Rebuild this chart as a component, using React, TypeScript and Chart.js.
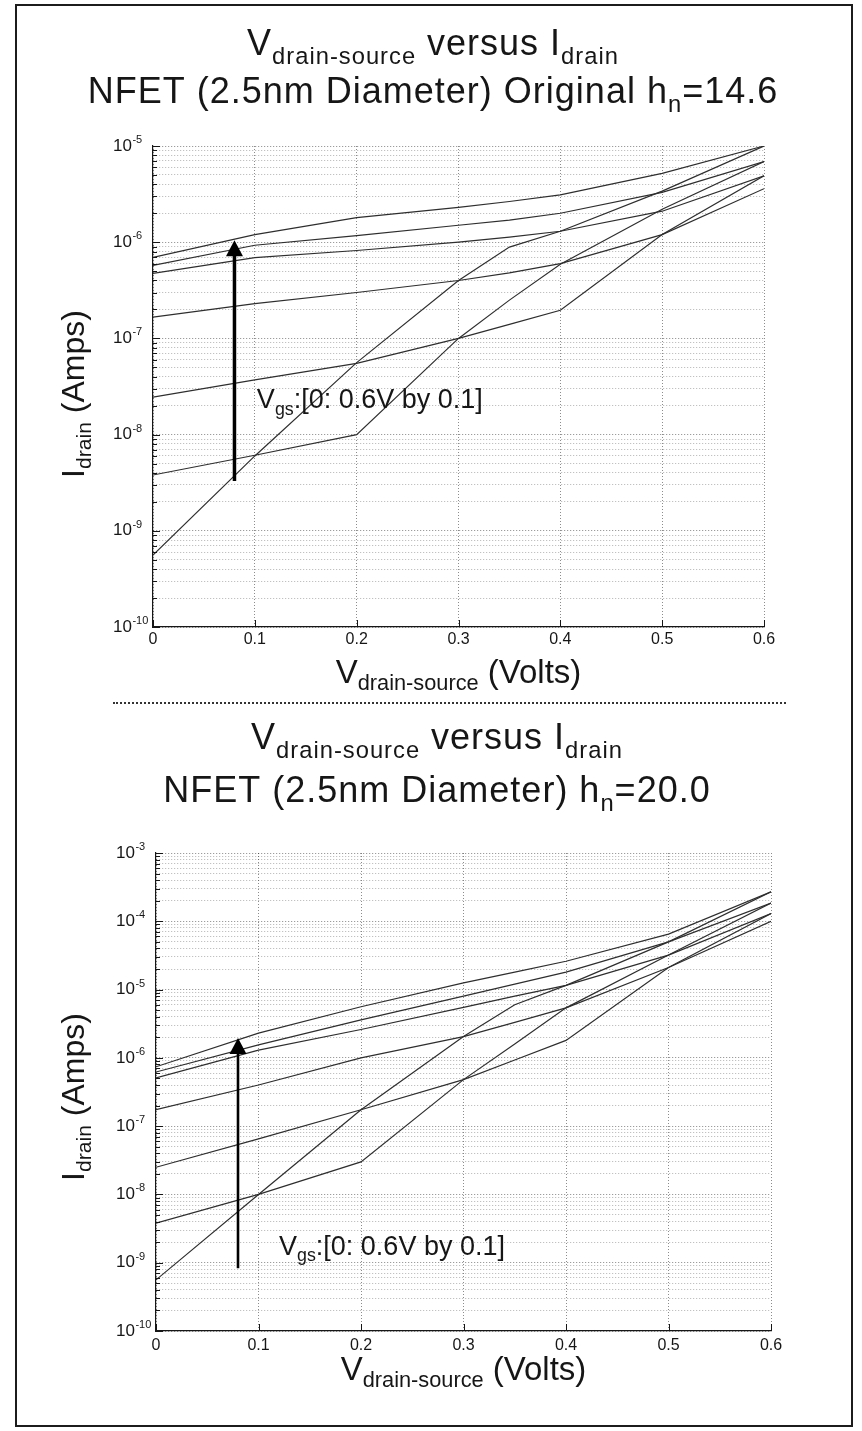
import React, { useEffect, useRef } from "react";
import { Chart, registerables } from "chart.js";

Chart.register(...registerables);

const FONT = '"Liberation Sans", Arial, Helvetica, sans-serif';
const INK = "#161616";
const CURVE = "#2e2e2e";

// ---------------- data ----------------
const VGS_STEPS = [0, 0.1, 0.2, 0.3, 0.4, 0.5, 0.6];
const VDS_POINTS = [0, 0.1, 0.2, 0.3, 0.35, 0.4, 0.5, 0.6];

// Top panel: original h_n = 14.6
const TOP_ID_VGS0 = [5.6e-10, 6.0e-9, 5.6e-8, 4.0e-7, 8.9e-7, 1.3e-6, 3.4e-6, 1.0e-5];
const TOP_ID_VGS1 = [3.8e-9, 6.1e-9, 1.0e-8, 1.0e-7, 2.5e-7, 5.9e-7, 2.2e-6, 6.9e-6];
const TOP_ID_VGS2 = [2.45e-8, 3.7e-8, 5.5e-8, 1.0e-7, 1.4e-7, 1.96e-7, 1.2e-6, 4.9e-6];
const TOP_ID_VGS3 = [1.66e-7, 2.3e-7, 3.0e-7, 4.0e-7, 4.8e-7, 6.0e-7, 1.2e-6, 3.6e-6];
const TOP_ID_VGS4 = [4.75e-7, 6.9e-7, 8.2e-7, 1.0e-6, 1.13e-6, 1.3e-6, 2.1e-6, 4.9e-6];
const TOP_ID_VGS5 = [5.75e-7, 9.3e-7, 1.17e-6, 1.5e-6, 1.7e-6, 2.0e-6, 3.3e-6, 6.9e-6];
const TOP_ID_VGS6 = [6.95e-7, 1.2e-6, 1.8e-6, 2.3e-6, 2.65e-6, 3.1e-6, 5.2e-6, 1.0e-5];

// Bottom panel: h_n = 20.0
const BOT_ID_VGS0 = [5.6e-10, 1.0e-8, 1.74e-7, 2.05e-6, 6.0e-6, 1.15e-5, 5.0e-5, 2.7e-4];
const BOT_ID_VGS1 = [3.8e-9, 1.0e-8, 3.0e-8, 4.8e-7, 1.6e-6, 5.4e-6, 3.2e-5, 1.85e-4];
const BOT_ID_VGS2 = [2.5e-8, 6.5e-8, 1.74e-7, 4.8e-7, 9.3e-7, 1.8e-6, 2.1e-5, 1.3e-4];
const BOT_ID_VGS3 = [1.74e-7, 4.0e-7, 1.0e-6, 2.05e-6, 3.3e-6, 5.4e-6, 2.1e-5, 1.0e-4];
const BOT_ID_VGS4 = [5.1e-7, 1.3e-6, 2.6e-6, 5.5e-6, 8.0e-6, 1.15e-5, 3.2e-5, 1.3e-4];
const BOT_ID_VGS5 = [6.2e-7, 1.55e-6, 3.6e-6, 8.0e-6, 1.2e-5, 1.8e-5, 5.0e-5, 1.85e-4];
const BOT_ID_VGS6 = [7.4e-7, 2.3e-6, 5.6e-6, 1.25e-5, 1.8e-5, 2.6e-5, 6.5e-5, 2.7e-4];

const X_TICKS = [0, 0.1, 0.2, 0.3, 0.4, 0.5, 0.6];
const X_TICK_LABELS = ["0", "0.1", "0.2", "0.3", "0.4", "0.5", "0.6"];
const TOP_Y_EXPONENTS = [-10, -9, -8, -7, -6, -5];
const BOT_Y_EXPONENTS = [-10, -9, -8, -7, -6, -5, -4, -3];

// arrows and notes (data coordinates)
const TOP_ARROW = { vds: 0.08, from: 3.3e-9, to: 1.05e-6 };
const BOT_ARROW = { vds: 0.08, from: 8.3e-10, to: 1.95e-6 };
const TOP_NOTE_AT = { vds: 0.102, id: 1.87e-8 };
const BOT_NOTE_AT = { vds: 0.12, id: 1.3e-9 };

// texts
type Seg = { t: string; k?: "sub" | "sup" };
const TITLE_1: Seg[] = [{ t: "V" }, { t: "drain-source", k: "sub" }, { t: " versus I" }, { t: "drain", k: "sub" }];
const TOP_TITLE_2: Seg[] = [{ t: "NFET (2.5nm Diameter) Original h" }, { t: "n", k: "sub" }, { t: "=14.6" }];
const BOT_TITLE_2: Seg[] = [{ t: "NFET (2.5nm Diameter) h" }, { t: "n", k: "sub" }, { t: "=20.0" }];
const X_TITLE: Seg[] = [{ t: "V" }, { t: "drain-source", k: "sub" }, { t: " (Volts)" }];
const Y_TITLE: Seg[] = [{ t: "I" }, { t: "drain", k: "sub" }, { t: " (Amps)" }];
const VGS_NOTE: Seg[] = [{ t: "V" }, { t: "gs", k: "sub" }, { t: ":[0: 0.6V by 0.1]" }];

// ---------------- helpers ----------------
function logTicks(minExp: number, maxExp: number) {
  const out: any[] = [];
  for (let e = minExp; e < maxExp; e++) {
    for (let k = 1; k <= 9; k++) out.push({ value: k * Math.pow(10, e), major: k === 1 });
  }
  out.push({ value: Math.pow(10, maxExp), major: true });
  return out;
}

function drawRich(ctx: CanvasRenderingContext2D, segs: Seg[], x: number, y: number, size: number, align: "left" | "center", ls = 0, subRatio = 0.66, dyRatio = 0.25) {
  const sub = size * subRatio;
  const dy = size * dyRatio;
  ctx.textBaseline = "alphabetic";
  ctx.textAlign = "left";
  (ctx as any).letterSpacing = ls + "px";
  const widths = segs.map((s) => {
    ctx.font = `${s.k ? sub : size}px ${FONT}`;
    return ctx.measureText(s.t).width;
  });
  const total = widths.reduce((a, b) => a + b, 0);
  let cx = align === "center" ? x - total / 2 : x;
  segs.forEach((s, i) => {
    ctx.font = `${s.k ? sub : size}px ${FONT}`;
    const off = s.k === "sub" ? dy : s.k === "sup" ? -dy : 0;
    ctx.fillText(s.t, cx, y + off);
    cx += widths[i];
  });
  (ctx as any).letterSpacing = "0px";
}

type PanelSpec = {
  top: number;
  height: number;
  padding: { left: number; right: number; top: number; bottom: number };
  minExp: number;
  maxExp: number;
  exponents: number[];
  series: number[][];
  title2: Seg[];
  titleX: number;
  title1Y: number;
  title2Y: number;
  xTitleY: number;
  yTitleX: number;
  yTitleCY: number;
  xTickDy: number;
  arrow: { vds: number; from: number; to: number };
  arrowWidth: number;
  note: { vds: number; id: number };
};

const TOP_SPEC: PanelSpec = {
  top: 0,
  height: 700,
  padding: { left: 153, right: 98, top: 146, bottom: 73 },
  minExp: -10,
  maxExp: -5,
  exponents: TOP_Y_EXPONENTS,
  series: [TOP_ID_VGS0, TOP_ID_VGS1, TOP_ID_VGS2, TOP_ID_VGS3, TOP_ID_VGS4, TOP_ID_VGS5, TOP_ID_VGS6],
  title2: TOP_TITLE_2,
  titleX: 433,
  title1Y: 55,
  title2Y: 103,
  xTitleY: 683,
  yTitleX: 84,
  yTitleCY: 394,
  xTickDy: 13,
  arrow: TOP_ARROW,
  arrowWidth: 3.5,
  note: TOP_NOTE_AT,
};

const BOT_SPEC: PanelSpec = {
  top: 700,
  height: 731,
  padding: { left: 156, right: 91, top: 153, bottom: 100 },
  minExp: -10,
  maxExp: -3,
  exponents: BOT_Y_EXPONENTS,
  series: [BOT_ID_VGS0, BOT_ID_VGS1, BOT_ID_VGS2, BOT_ID_VGS3, BOT_ID_VGS4, BOT_ID_VGS5, BOT_ID_VGS6],
  title2: BOT_TITLE_2,
  titleX: 437,
  title1Y: 49,
  title2Y: 102,
  xTitleY: 680,
  yTitleX: 84,
  yTitleCY: 397,
  xTickDy: 15,
  arrow: BOT_ARROW,
  arrowWidth: 2.6,
  note: BOT_NOTE_AT,
};

function overlayPlugin(spec: PanelSpec) {
  return {
    id: "overlay",
    afterDraw(chart: any) {
      const { ctx, chartArea: a, scales } = chart;
      const xs = scales.x;
      const ys = scales.y;
      ctx.save();
      // inward tick marks
      ctx.strokeStyle = INK;
      ctx.lineWidth = 1;
      ys.ticks.forEach((t: any) => {
        const y = Math.round(ys.getPixelForValue(t.value)) + 0.5;
        const len = t.major ? 7 : 4;
        ctx.beginPath();
        ctx.moveTo(a.left, y);
        ctx.lineTo(a.left + len, y);
        ctx.stroke();
      });
      xs.ticks.forEach((t: any) => {
        const x = Math.round(xs.getPixelForValue(t.value)) + 0.5;
        ctx.beginPath();
        ctx.moveTo(x, a.bottom);
        ctx.lineTo(x, a.bottom - 7);
        ctx.stroke();
      });

      ctx.fillStyle = INK;
      // x tick labels
      ctx.font = `16px ${FONT}`;
      ctx.textAlign = "center";
      ctx.textBaseline = "middle";
      X_TICKS.forEach((v, i) => {
        ctx.fillText(X_TICK_LABELS[i], xs.getPixelForValue(v), a.bottom + spec.xTickDy);
      });
      // y tick labels 10^e
      spec.exponents.forEach((e) => {
        const y = ys.getPixelForValue(Math.pow(10, e));
        const lx = a.left - 40;
        ctx.font = `17px ${FONT}`;
        ctx.textAlign = "left";
        ctx.textBaseline = "middle";
        ctx.fillText("10", lx, y);
        const w = ctx.measureText("10").width;
        ctx.font = `11px ${FONT}`;
        ctx.textBaseline = "alphabetic";
        ctx.fillText(String(e), lx + w + 0.5, y - 3);
      });

      // titles
      drawRich(ctx, TITLE_1, spec.titleX, spec.title1Y, 36, "center", 1);
      drawRich(ctx, spec.title2, spec.titleX, spec.title2Y, 36, "center", 1);
      // axis titles
      drawRich(ctx, X_TITLE, (a.left + a.right) / 2, spec.xTitleY, 33, "center", 0, 0.66, 0.22);
      ctx.save();
      ctx.translate(spec.yTitleX, spec.yTitleCY);
      ctx.rotate(-Math.PI / 2);
      drawRich(ctx, Y_TITLE, 0, 0, 32, "center", 0, 0.66, 0.22);
      ctx.restore();

      // arrow
      const ax = xs.getPixelForValue(spec.arrow.vds);
      const y0 = ys.getPixelForValue(spec.arrow.from);
      const y1 = ys.getPixelForValue(spec.arrow.to);
      ctx.strokeStyle = "#000";
      ctx.fillStyle = "#000";
      ctx.lineWidth = spec.arrowWidth;
      ctx.beginPath();
      ctx.moveTo(ax, y0);
      ctx.lineTo(ax, y1 + 12);
      ctx.stroke();
      ctx.beginPath();
      ctx.moveTo(ax, y1);
      ctx.lineTo(ax - 8.5, y1 + 16);
      ctx.lineTo(ax + 8.5, y1 + 16);
      ctx.closePath();
      ctx.fill();

      // note
      ctx.fillStyle = INK;
      drawRich(ctx, VGS_NOTE, xs.getPixelForValue(spec.note.vds), ys.getPixelForValue(spec.note.id), 27, "left", 0, 0.66, 0.24);
      ctx.restore();
    },
  };
}

function makeConfig(spec: PanelSpec): any {
  const yTicks = logTicks(spec.minExp, spec.maxExp);
  return {
    type: "scatter",
    data: {
      datasets: spec.series.map((ys, si) => ({
        label: `Vgs=${VGS_STEPS[si]}`,
        data: VDS_POINTS.map((x, i) => ({ x, y: ys[i] })),
        showLine: true,
        borderColor: CURVE,
        backgroundColor: CURVE,
        borderWidth: 1.2,
        pointRadius: 0,
        pointHoverRadius: 0,
        fill: false,
        tension: 0,
      })),
    },
    options: {
      animation: false,
      responsive: false,
      maintainAspectRatio: false,
      events: [],
      layout: { padding: spec.padding },
      plugins: {
        legend: { display: false },
        tooltip: { enabled: false },
        title: { display: false },
      },
      scales: {
        x: {
          type: "linear",
          min: 0,
          max: 0.6,
          afterBuildTicks: (s: any) => {
            s.ticks = X_TICKS.map((v) => ({ value: v, major: true }));
          },
          afterFit: (s: any) => {
            s.height = 0;
          },
          ticks: { display: false },
          grid: { color: "rgba(0,0,0,0.45)", lineWidth: 1, drawTicks: false },
          border: { display: true, color: INK, width: 1.2, dash: [1, 2] },
        },
        y: {
          type: "logarithmic",
          min: Math.pow(10, spec.minExp),
          max: Math.pow(10, spec.maxExp),
          afterBuildTicks: (s: any) => {
            s.ticks = yTicks.map((t) => ({ ...t }));
          },
          afterFit: (s: any) => {
            s.width = 0;
          },
          ticks: { display: false },
          grid: {
            color: (c: any) => (c.tick && c.tick.major ? "rgba(0,0,0,0.48)" : "rgba(0,0,0,0.3)"),
            lineWidth: 1,
            drawTicks: false,
          },
          border: { display: true, color: INK, width: 1.2, dash: [1, 2] },
        },
      },
    },
    plugins: [overlayPlugin(spec)],
  };
}

function Panel({ spec }: { spec: PanelSpec }) {
  const ref = useRef<HTMLCanvasElement>(null);
  useEffect(() => {
    const chart = new Chart(ref.current as HTMLCanvasElement, makeConfig(spec));
    return () => chart.destroy();
  }, [spec]);
  return (
    <canvas
      ref={ref}
      width={862}
      height={spec.height}
      style={{ position: "absolute", left: 0, top: spec.top, width: 862, height: spec.height }}
    />
  );
}

export default function App() {
  return (
    <div style={{ position: "absolute", left: 0, top: 0, width: 862, height: 1431, background: "#fff", overflow: "hidden" }}>
      <Panel spec={TOP_SPEC} />
      <Panel spec={BOT_SPEC} />
      <div
        style={{
          position: "absolute",
          left: 15,
          top: 4,
          width: 838,
          height: 1423,
          border: "2px solid #1c1c1c",
          boxSizing: "border-box",
          pointerEvents: "none",
        }}
      />
      <div
        style={{
          position: "absolute",
          left: 113,
          top: 702,
          width: 673,
          height: 0,
          borderTop: "2px dotted #333",
        }}
      />
    </div>
  );
}
